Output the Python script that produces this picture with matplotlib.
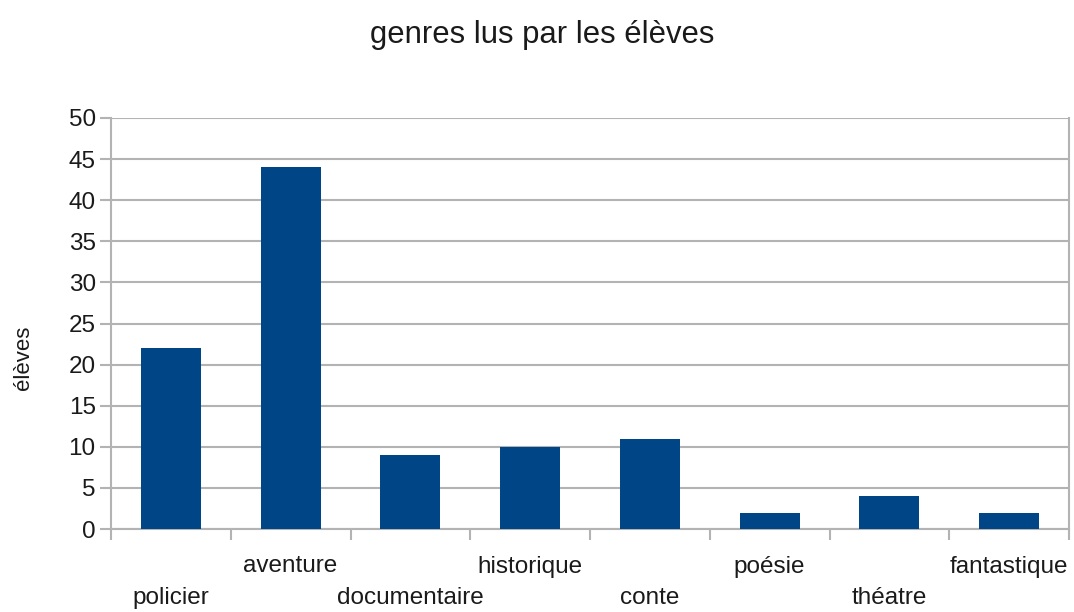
import numpy as np
import matplotlib.pyplot as plt

plt.rcParams['font.family'] = ['Liberation Sans', 'DejaVu Sans']

genres = ['policier', 'aventure', 'documentaire', 'historique', 'conte',
          'poésie', 'théatre', 'fantastique']
eleves = [22, 44, 9, 10, 11, 2, 4, 2]
yticks = list(range(0, 51, 5))

bar_color = '#004586'
grid_color = '#b3b3b3'
text_color = '#1a1a1a'

fig = plt.figure(figsize=(10.74, 6.12), dpi=100)
ax = fig.add_axes([111/1074, 1 - 529/612, (1069 - 111)/1074, (529 - 118)/612])

x = np.arange(len(genres))
ax.bar(x, eleves, width=0.5, color=bar_color, zorder=3)

ax.set_xlim(-0.5, len(genres) - 0.5)
ax.set_ylim(0, 50)
ax.set_yticks(yticks)
ax.yaxis.grid(True, color=grid_color, linewidth=1.5, zorder=0)
ax.tick_params(axis='y', direction='out', length=8, width=1.5, color=grid_color,
               labelsize=17.5, pad=3, labelcolor=text_color)

# tick marks on the category borders, labels placed by hand (staggered)
ax.set_xticks(np.arange(-0.5, len(genres), 1.0))
ax.set_xticklabels([])
ax.tick_params(axis='x', direction='out', length=8, width=1.5, color=grid_color)

for i, g in enumerate(genres):
    off = -50 if i % 2 == 0 else -27
    ax.annotate(g, xy=(i, 0), xycoords=('data', 'axes fraction'),
                xytext=(0, off), textcoords='offset points',
                ha='center', va='center', fontsize=17.5, color=text_color)

for s in ax.spines.values():
    s.set_color(grid_color)
    s.set_linewidth(1.5)
ax.spines['top'].set_visible(False)

fig.text(23/1074, 1 - 358/612, 'élèves', rotation=90, ha='center', va='center',
         fontsize=16, color=text_color)
fig.text(0.505, 1 - 35/612, 'genres lus par les élèves', ha='center', va='center',
         fontsize=22.3, color=text_color)

fig.savefig('out.png', dpi=100)
